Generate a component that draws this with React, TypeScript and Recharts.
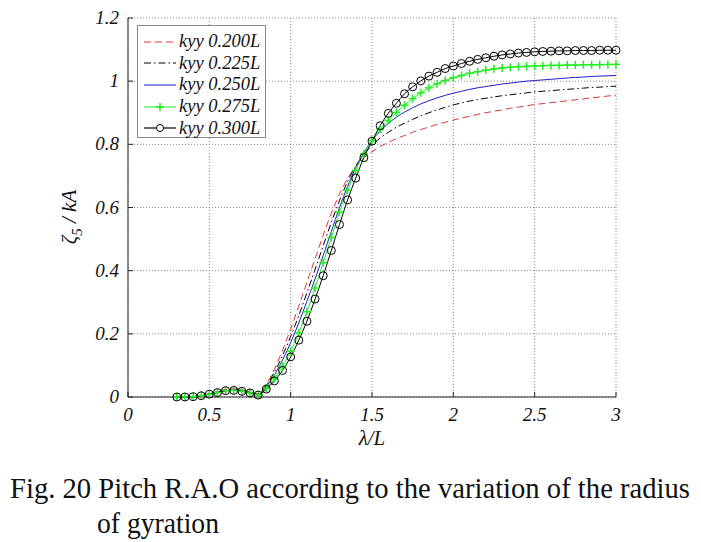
import { LineChart, Line, XAxis, YAxis, CartesianGrid } from 'recharts';

// wavelength / ship length
const lambdaL = [
  0.3, 0.35, 0.4, 0.45, 0.5, 0.55, 0.6, 0.65, 0.7, 0.75, 0.8, 0.85, 0.9, 0.95, 1.0,
  1.05, 1.1, 1.15, 1.2, 1.25, 1.3, 1.35, 1.4, 1.45, 1.5, 1.55, 1.6, 1.65, 1.7, 1.75,
  1.8, 1.85, 1.9, 1.95, 2.0, 2.05, 2.1, 2.15, 2.2, 2.25, 2.3, 2.35, 2.4, 2.45, 2.5,
  2.55, 2.6, 2.65, 2.7, 2.75, 2.8, 2.85, 2.9, 2.95, 3.0,
];

const kyy200 = [
  0.000, 0.000, 0.001, 0.004, 0.010, 0.017, 0.024, 0.026, 0.023, 0.017, 0.010, 0.041, 0.088, 0.148, 0.215,
  0.288, 0.363, 0.438, 0.512, 0.582, 0.642, 0.692, 0.730, 0.757, 0.777, 0.793, 0.806, 0.818, 0.828, 0.838,
  0.847, 0.855, 0.863, 0.870, 0.877, 0.883, 0.889, 0.895, 0.900, 0.905, 0.909, 0.914, 0.918, 0.922, 0.926,
  0.929, 0.932, 0.935, 0.938, 0.941, 0.944, 0.947, 0.950, 0.953, 0.955,
];

const kyy225 = [
  0.000, 0.000, 0.001, 0.004, 0.010, 0.016, 0.022, 0.024, 0.021, 0.015, 0.009, 0.037, 0.079, 0.131, 0.192,
  0.258, 0.330, 0.404, 0.479, 0.553, 0.622, 0.682, 0.731, 0.768, 0.797, 0.820, 0.838, 0.854, 0.867, 0.879,
  0.890, 0.900, 0.909, 0.917, 0.925, 0.931, 0.937, 0.942, 0.946, 0.950, 0.954, 0.957, 0.960, 0.963, 0.966,
  0.968, 0.970, 0.972, 0.974, 0.976, 0.978, 0.980, 0.981, 0.983, 0.984,
];

const kyy250 = [
  0.000, 0.000, 0.001, 0.004, 0.009, 0.015, 0.020, 0.022, 0.019, 0.014, 0.008, 0.033, 0.070, 0.117, 0.172,
  0.235, 0.303, 0.374, 0.448, 0.524, 0.600, 0.667, 0.726, 0.774, 0.812, 0.842, 0.866, 0.886, 0.902, 0.916,
  0.928, 0.938, 0.947, 0.955, 0.962, 0.968, 0.974, 0.979, 0.983, 0.987, 0.991, 0.994, 0.997, 1.000, 1.002,
  1.004, 1.006, 1.008, 1.010, 1.012, 1.013, 1.015, 1.016, 1.017, 1.018,
];

const kyy275 = [
  0.000, 0.000, 0.001, 0.004, 0.009, 0.014, 0.020, 0.021, 0.018, 0.013, 0.007, 0.028, 0.058, 0.097, 0.145,
  0.203, 0.270, 0.345, 0.425, 0.505, 0.585, 0.655, 0.718, 0.770, 0.812, 0.847, 0.876, 0.901, 0.924, 0.945,
  0.963, 0.979, 0.992, 1.002, 1.011, 1.018, 1.025, 1.030, 1.035, 1.039, 1.042, 1.044, 1.046, 1.047, 1.048,
  1.049, 1.050, 1.050, 1.051, 1.051, 1.052, 1.052, 1.052, 1.053, 1.053,
];

const kyy300 = [
  0.000, 0.000, 0.001, 0.004, 0.009, 0.014, 0.020, 0.021, 0.018, 0.013, 0.006, 0.025, 0.051, 0.084, 0.127,
  0.180, 0.240, 0.310, 0.384, 0.464, 0.546, 0.624, 0.693, 0.758, 0.810, 0.859, 0.898, 0.930, 0.960, 0.982,
  1.001, 1.016, 1.028, 1.040, 1.048, 1.056, 1.063, 1.069, 1.074, 1.079, 1.083, 1.086, 1.089, 1.091, 1.093,
  1.094, 1.095, 1.096, 1.096, 1.097, 1.097, 1.097, 1.098, 1.098, 1.098,
];

const xTicks = [0, 0.5, 1, 1.5, 2, 2.5, 3];
const yTicks = [0, 0.2, 0.4, 0.6, 0.8, 1, 1.2];

const seriesNames = ['kyy 0.200L', 'kyy 0.225L', 'kyy 0.250L', 'kyy 0.275L', 'kyy 0.300L'];

const chartData = lambdaL.map((x, i) => ({
  x,
  k200: kyy200[i],
  k225: kyy225[i],
  k250: kyy250[i],
  k275: kyy275[i],
  k300: kyy300[i],
}));

const SERIF = '"Liberation Serif", "Times New Roman", serif';
const RED = '#e0353a';
const BLUE = '#1f1fc8';
const GREEN = '#1fee1f';

const PlusDot = (props: any) => {
  const { cx, cy, index } = props;
  if (cx == null || cy == null) return <g key={`p${index}`} />;
  return (
    <g key={`p${index}`}>
      <line x1={cx - 4} x2={cx + 4} y1={cy} y2={cy} stroke={GREEN} strokeWidth={1.5} />
      <line x1={cx} x2={cx} y1={cy - 4} y2={cy + 4} stroke={GREEN} strokeWidth={1.5} />
    </g>
  );
};

const XTick = (props: any) => (
  <text x={props.x} y={props.y} dy={24} textAnchor="middle" fontFamily={SERIF} fontStyle="italic" fontSize={19} fill="#111">
    {props.payload.value}
  </text>
);

const YTick = (props: any) => (
  <text x={props.x} y={props.y} dy={6} textAnchor="end" fontFamily={SERIF} fontStyle="italic" fontSize={19} fill="#111">
    {props.payload.value}
  </text>
);

const YLabel = () => (
  <text transform="translate(76, 217) rotate(-90)" textAnchor="middle" fontFamily={SERIF} fontStyle="italic" fontSize={21} fill="#111">
    ζ<tspan fontSize={15} dy={6}>5</tspan>
    <tspan dy={-6}> / kA</tspan>
  </text>
);

const XLabel = () => (
  <text x={372} y={445} textAnchor="middle" fontFamily={SERIF} fontStyle="italic" fontSize={21} fill="#111">
    λ/L
  </text>
);

const Swatch = ({ i }: { i: number }) => (
  <svg width={34} height={12} style={{ display: 'block' }}>
    {i === 0 && <line x1={1} x2={33} y1={6} y2={6} stroke={RED} strokeDasharray="7 4" />}
    {i === 1 && <line x1={1} x2={33} y1={6} y2={6} stroke="#000" strokeDasharray="7 3 1.5 3" />}
    {i === 2 && <line x1={1} x2={33} y1={6} y2={6} stroke={BLUE} />}
    {i === 3 && (
      <g stroke={GREEN} strokeWidth={1.5}>
        <line x1={1} x2={33} y1={6} y2={6} strokeWidth={1} />
        <line x1={13} x2={21} y1={6} y2={6} />
        <line x1={17} x2={17} y1={2} y2={10} />
      </g>
    )}
    {i === 4 && (
      <g>
        <line x1={1} x2={33} y1={6} y2={6} stroke="#333" strokeWidth={1.5} />
        <circle cx={17} cy={6} r={3.5} fill="#fff" stroke="#000" />
      </g>
    )}
  </svg>
);

export default function App() {
  return (
    <div style={{ position: 'absolute', left: 0, top: 0, width: 701, height: 542, background: '#fff' }}>
      <LineChart width={701} height={542} data={chartData} margin={{ top: 18, right: 85, bottom: 105, left: 68 }}>
        <CartesianGrid stroke="#8a8a8a" strokeDasharray="1 2" xAxisId="b" yAxisId="l" />
        <XAxis
          xAxisId="b"
          dataKey="x"
          type="number"
          domain={[0, 3]}
          ticks={xTicks}
          height={40}
          stroke="#222"
          tickSize={-5}
          tickMargin={5}
          tick={<XTick />}
          label={<XLabel />}
        />
        <XAxis
          xAxisId="t"
          orientation="top"
          dataKey="x"
          type="number"
          domain={[0, 3]}
          ticks={xTicks}
          height={0}
          stroke="#222"
          tickSize={-5}
          tick={false}
        />
        <YAxis
          yAxisId="l"
          type="number"
          domain={[0, 1.2]}
          ticks={yTicks}
          width={60}
          stroke="#222"
          tickSize={-5}
          tickMargin={14}
          tick={<YTick />}
          label={<YLabel />}
        />
        <YAxis
          yAxisId="r"
          orientation="right"
          type="number"
          domain={[0, 1.2]}
          ticks={yTicks}
          width={0}
          stroke="#222"
          tickSize={-5}
          tick={false}
        />
        <Line xAxisId="b" yAxisId="l" type="monotone" dataKey="k200" stroke={RED} strokeWidth={1} strokeDasharray="7 4" dot={false} isAnimationActive={false} />
        <Line xAxisId="b" yAxisId="l" type="monotone" dataKey="k225" stroke="#000" strokeWidth={1} strokeDasharray="7 3 1.5 3" dot={false} isAnimationActive={false} />
        <Line xAxisId="b" yAxisId="l" type="monotone" dataKey="k250" stroke={BLUE} strokeWidth={1} dot={false} isAnimationActive={false} />
        <Line xAxisId="b" yAxisId="l" type="monotone" dataKey="k275" stroke={GREEN} strokeWidth={1} dot={<PlusDot />} isAnimationActive={false} />
        <Line
          xAxisId="b"
          yAxisId="l"
          type="monotone"
          dataKey="k300"
          stroke="#000"
          strokeWidth={1}
          dot={{ r: 4, fill: 'none', stroke: '#000', strokeWidth: 1 }}
          isAnimationActive={false}
        />
      </LineChart>

      <div
        style={{
          position: 'absolute',
          left: 137,
          top: 25,
          width: 129,
          height: 113,
          border: '1px solid #888',
          background: '#fff',
          paddingTop: 5,
          boxSizing: 'border-box',
        }}
      >
        {seriesNames.map((name, i) => (
          <div key={name} style={{ display: 'flex', alignItems: 'center', height: 21.6, paddingLeft: 5 }}>
            <Swatch i={i} />
            <span style={{ fontFamily: SERIF, fontStyle: 'italic', fontSize: 18.5, marginLeft: 2, color: '#111', whiteSpace: 'nowrap' }}>
              {name}
            </span>
          </div>
        ))}
      </div>

      <svg width={701} height={80} style={{ position: 'absolute', left: 0, top: 462 }}>
        <text
          transform="translate(10, 36) scale(1, 1.12)"
          fontFamily={SERIF}
          fontSize={27}
          fill="#111"
          textLength={680}
          lengthAdjust="spacingAndGlyphs"
        >
          Fig. 20 Pitch R.A.O according to the variation of the radius
        </text>
        <text
          transform="translate(97, 71) scale(1, 1.12)"
          fontFamily={SERIF}
          fontSize={27}
          fill="#111"
          textLength={122}
          lengthAdjust="spacingAndGlyphs"
        >
          of gyration
        </text>
      </svg>
    </div>
  );
}
